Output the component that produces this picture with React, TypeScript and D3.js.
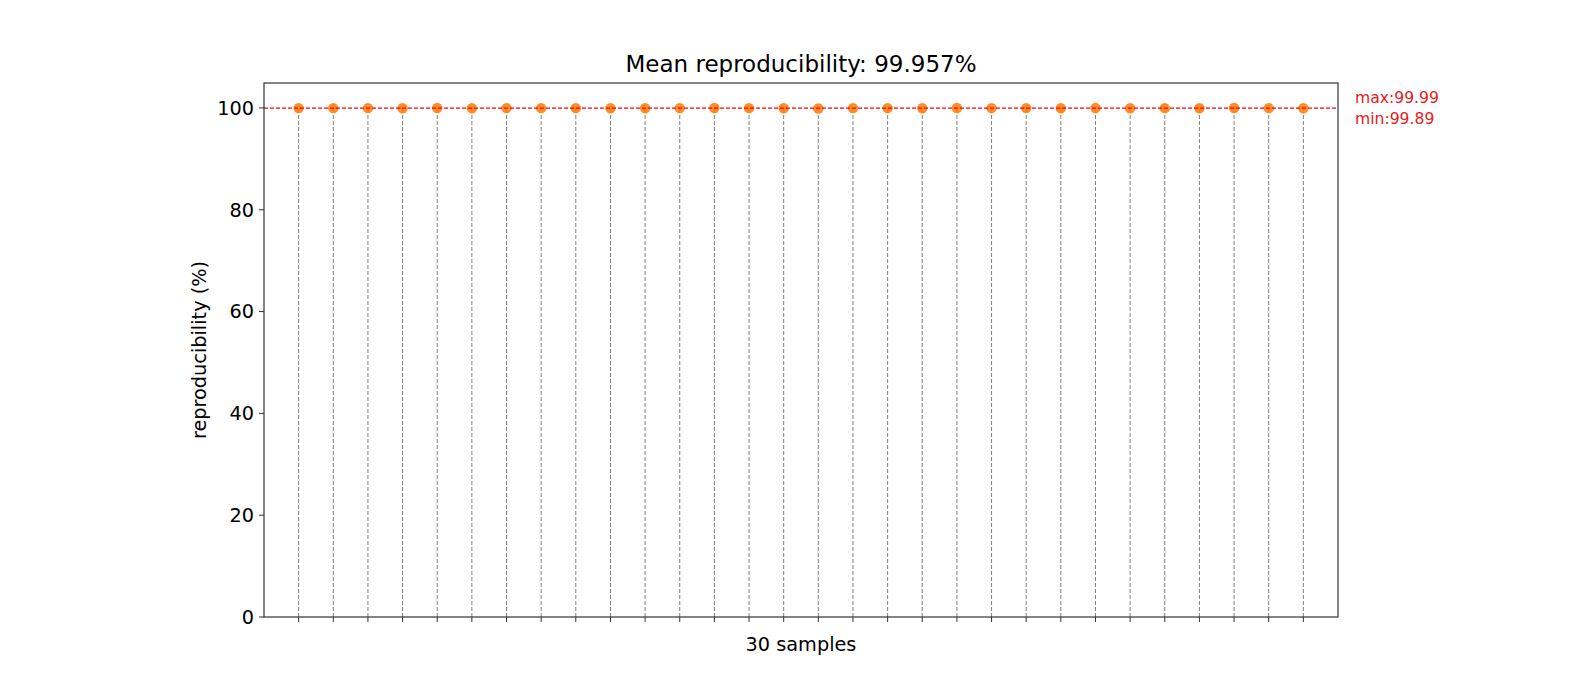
import React from "react";
import * as d3 from "d3";

const samples: number[] = d3.range(1, 31);
const reproducibility: number[] = [
  99.97, 99.96, 99.96, 99.95, 99.98, 99.94, 99.97, 99.96, 99.96, 99.95,
  99.93, 99.97, 99.98, 99.96, 99.94, 99.89, 99.97, 99.96, 99.95, 99.98,
  99.96, 99.97, 99.93, 99.99, 99.95, 99.96, 99.94, 99.98, 99.96, 99.94,
];
const yTicks: number[] = [0, 20, 40, 60, 80, 100];

const W = 1569;
const H = 693;
const M = { left: 264, right: 1338, top: 83, bottom: 617 };
const FONT = "'DejaVu Sans', sans-serif";

export default function App() {
  const x = d3.scaleLinear().domain([0, samples.length + 1]).range([M.left, M.right]);
  const y = d3.scaleLinear().domain([0, 104.9]).range([M.bottom, M.top]);
  const mean = d3.mean(reproducibility) as number;
  const maxV = d3.max(reproducibility) as number;
  const minV = d3.min(reproducibility) as number;

  return (
    <svg
      width={W}
      height={H}
      style={{ position: "absolute", left: 0, top: 0, background: "#fff" }}
      fontFamily={FONT}
    >
      {/* stems */}
      {samples.map((s, i) => (
        <line
          key={"st" + i}
          x1={x(s)}
          x2={x(s)}
          y1={y(0)}
          y2={y(reproducibility[i])}
          stroke="#808080"
          strokeWidth={1}
          strokeDasharray="4,2"
        />
      ))}
      {/* dots */}
      {samples.map((s, i) => (
        <circle
          key={"pt" + i}
          cx={x(s)}
          cy={y(reproducibility[i])}
          r={5.2}
          fill="#ff7f0e"
          fillOpacity={0.9}
        />
      ))}
      {/* mean line */}
      <line
        x1={M.left}
        x2={M.right}
        y1={y(mean)}
        y2={y(mean)}
        stroke="#ff0000"
        strokeWidth={1.2}
        strokeDasharray="4,2"
      />
      {/* frame */}
      <rect
        x={M.left}
        y={M.top}
        width={M.right - M.left}
        height={M.bottom - M.top}
        fill="none"
        stroke="#333"
        strokeWidth={1.2}
      />
      {/* x ticks */}
      {samples.map((s, i) => (
        <line key={"xt" + i} x1={x(s)} x2={x(s)} y1={M.bottom} y2={M.bottom + 5} stroke="#333" strokeWidth={1} />
      ))}
      {/* y ticks */}
      {yTicks.map((t) => (
        <g key={"yt" + t}>
          <line x1={M.left - 5} x2={M.left} y1={y(t)} y2={y(t)} stroke="#333" strokeWidth={1} />
          <text x={M.left - 10} y={y(t)} dy="0.35em" textAnchor="end" fontSize={19.3} fill="#000">
            {t}
          </text>
        </g>
      ))}
      {/* title */}
      <text x={(M.left + M.right) / 2} y={72} textAnchor="middle" fontSize={23} fill="#000">
        {`Mean reproducibility: ${mean.toFixed(3)}%`}
      </text>
      {/* x label */}
      <text x={(M.left + M.right) / 2} y={651} textAnchor="middle" fontSize={19.3} fill="#000">
        {`${samples.length} samples`}
      </text>
      {/* y label */}
      <text
        transform={`translate(206,${(M.top + M.bottom) / 2}) rotate(-90)`}
        textAnchor="middle"
        fontSize={19.3}
        fill="#000"
      >
        reproducibility (%)
      </text>
      {/* annotations */}
      <text x={1355} y={98} dy="0.35em" fontSize={15.6} fill="#e41a1c">
        {`max:${maxV.toFixed(2)}`}
      </text>
      <text x={1355} y={119} dy="0.35em" fontSize={15.6} fill="#e41a1c">
        {`min:${minV.toFixed(2)}`}
      </text>
    </svg>
  );
}
